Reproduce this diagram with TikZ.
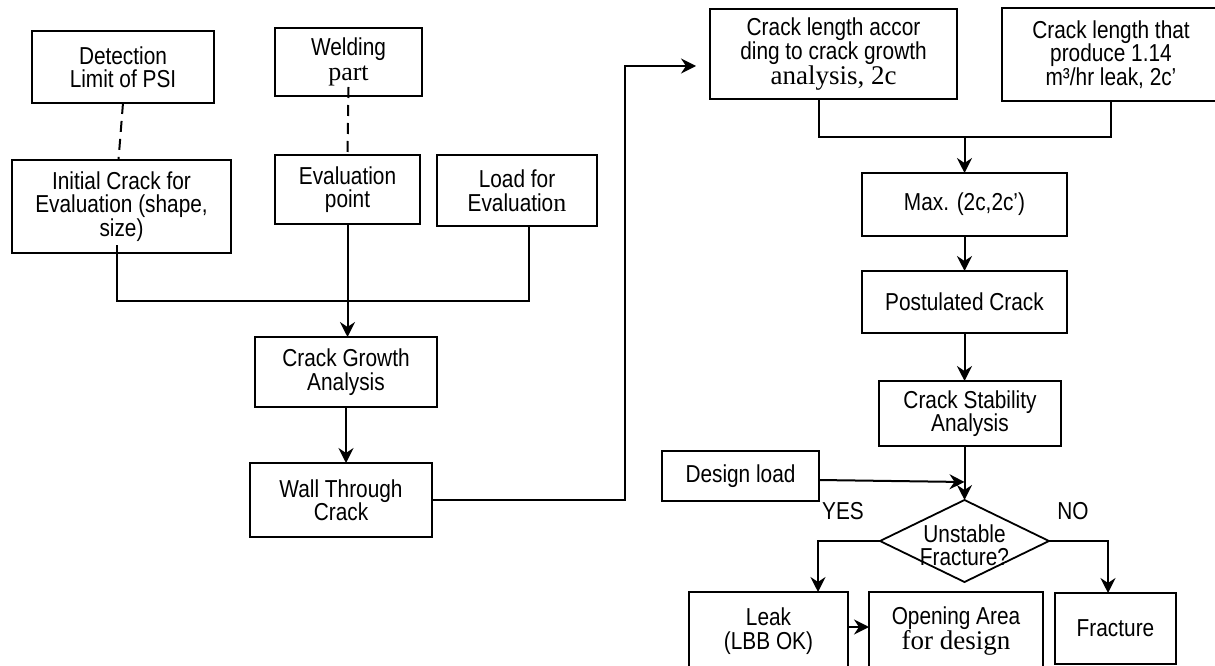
\documentclass[tikz,border=0pt]{standalone}
\usepackage{fontspec}
\setmainfont{Liberation Sans}[FakeStretch=0.85]
\newfontfamily\tms{Liberation Serif}
\usetikzlibrary{shapes.geometric,arrows.meta,calc}

\begin{document}
\begin{tikzpicture}[x=1pt,y=1pt,yscale=-1,xscale=1,
  box/.style={draw,line width=1.8pt,rectangle,inner sep=0pt,outer sep=0pt,align=center,font=\fontsize{24.5}{23.5}\selectfont},
  txt/.style={align=center,inner sep=0pt,font=\fontsize{24.5}{23.5}\selectfont},
  ln/.style={line width=2pt},
  arr/.style={line width=2pt,-{Stealth[length=15pt,width=15pt,inset=5pt]}},
  dsh/.style={line width=2pt,dash pattern=on 11pt off 7pt}]

\useasboundingbox (0,0) rectangle (1215,666);

\node[box,minimum width=182pt,minimum height=72pt] (det) at (123,67) {Detection\\Limit of PSI};

\node[box,minimum width=147pt,minimum height=68pt] (weld) at (348.5,62) {Welding\\[1pt]{\tms\fontsize{26}{23.5}\selectfont part}};

\node[box,minimum width=219pt,minimum height=93pt] (init) at (121.5,206.5) {Initial Crack for\\Evaluation (shape,\\size)};

\node[box,minimum width=145pt,minimum height=69pt] (evp) at (347.5,189.5) {Evaluation\\point};

\node[box,minimum width=160pt,minimum height=71pt] (load) at (517,190.5) {Load for\\Evaluatio{\tms\fontsize{26}{23.5}\selectfont n}};

\node[box,minimum width=182pt,minimum height=70pt] (cga) at (346,372) {Crack Growth\\Analysis};

\node[box,minimum width=182pt,minimum height=74pt] (wtc) at (341,500) {Wall Through\\Crack};

\node[box,minimum width=247pt,minimum height=90pt] (cla) at (833.5,54) {Crack length accor\\ding to crack growth\\{\tms\fontsize{27}{23.5}\selectfont analysis, 2c}};

\node[box,minimum width=218pt,minimum height=93pt] (clt) at (1111,54.5) {Crack length that\\produce 1.14\\m³/hr leak, 2c'};

\node[box,minimum width=205pt,minimum height=63pt] (max) at (964.5,204.5) {Max. (2c,2c')};

\node[box,minimum width=205pt,minimum height=62pt] (pos) at (964.5,302) {Postulated Crack};

\node[box,minimum width=182pt,minimum height=65pt] (csa) at (970,413.5) {Crack Stability\\Analysis};

\node[box,minimum width=157pt,minimum height=50pt] (dsl) at (740.5,476) {Design load};

\node[draw,line width=1.8pt,shape=diamond,inner sep=0pt,outer sep=0pt,minimum width=169pt,minimum height=82pt] (dia) at (964.5,541) {};
\node[txt] (dtx) at (964.5,545) {Unstable\\Fracture?};

\node[txt] (yes) at (843,511) {YES};
\node[txt] (no) at (1073,511) {NO};

\node[box,minimum width=159pt,minimum height=78pt] (leak) at (768.5,631) {Leak\\(LBB OK)};

\node[box,minimum width=174pt,minimum height=78pt] (opa) at (956,631) {Opening Area\\{\tms\fontsize{27}{23.5}\selectfont for design}};

\node[box,minimum width=121pt,minimum height=71pt] (frac) at (1115.5,628.5) {Fracture};

\coordinate (bus) at (347,301);
\coordinate (fb) at (625,66);
\coordinate (mrg) at (964.5,137);

\draw[dsh] (det.south) -- ($(init.north)+(-3,0)$);

\draw[dsh] ($(weld.south)+(0,-9)$) -- (evp.north);

\draw[ln] ($(init.south)+(-4.5,-8)$) |- (bus) -| ($(load.south)+(12,0)$);

\draw[arr] (evp.south) -- (evp.south |- cga.north);

\draw[arr] (cga.south) -- (cga.south |- wtc.north);

\draw[arr] (wtc.east) -| (fb) -- ($(cla.west)+(-14,12)$);

\draw[ln] ($(cla.south)+(-14.5,0)$) |- (mrg) -| (clt.south);

\draw[arr] (mrg) -- (max.north);

\draw[arr] (max.south) -- (pos.north);

\draw[arr] (pos.south) -- (pos.south |- csa.north);

\draw[arr] (pos.south |- csa.south) -- (dia.north);

\draw[arr] ($(dsl.east)+(0,4)$) -- ($(dsl.east -| dia.north)+(0,6)$);

\draw[arr] (dia.west) -| ($(leak.north)+(49.5,0)$);

\draw[arr] (dia.east) -| ($(frac.north)+(-7.5,0)$);

\draw[arr] ($(leak.east)+(0,-4)$) -- ($(leak.east -| opa.west)+(0,-4)$);

\end{tikzpicture}
\end{document}
